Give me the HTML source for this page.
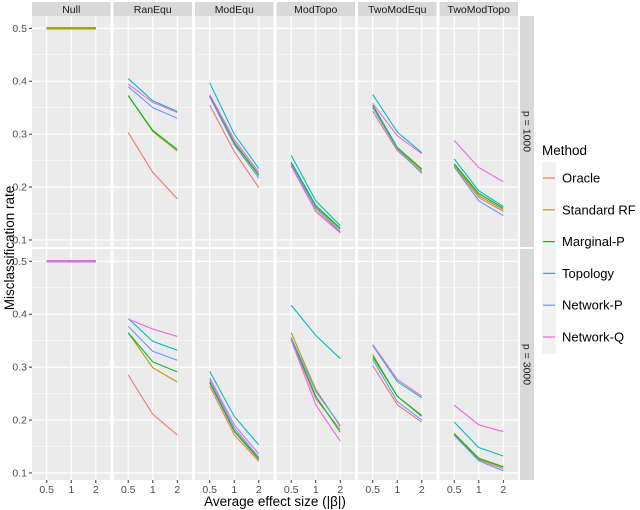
<!DOCTYPE html>
<html><head><meta charset="utf-8"><style>
body{margin:0;background:#fff;}
svg{display:block;font-family:"Liberation Sans",sans-serif;}
</style></head><body>
<svg id="chart" width="640" height="510"></svg>
<script>
const methods=["Oracle","Standard RF","Marginal-P","Topology","Network-P","Network-Q"];
const colors=["#F8766D","#B79F00","#00BA38","#00BFC4","#619CFF","#F564E3"];
const scenarios=["Null","RanEqu","ModEqu","ModTopo","TwoModEqu","TwoModTopo"];
const rowLabels=["p = 1000","p = 3000"];
const xLabels=["0.5","1","2"];
const yTicks=[0.1,0.2,0.3,0.4,0.5];
// values[row][scenario][method] = [x0.5, x1, x2]
const row1000=[
 [[0.5,0.5,0.5],[0.5,0.5,0.5],[0.5,0.5,0.5],[0.5,0.5,0.5],[0.5,0.5,0.5],[0.5,0.5,0.5]],
 [[0.303,0.228,0.178],[0.373,0.305,0.268],[0.373,0.307,0.271],[0.405,0.363,0.343],[0.39,0.35,0.33],[0.395,0.36,0.341]],
 [[0.355,0.267,0.199],[0.372,0.285,0.224],[0.372,0.283,0.222],[0.397,0.30,0.235],[0.37,0.28,0.217],[0.375,0.29,0.228]],
 [[0.24,0.155,0.115],[0.245,0.162,0.12],[0.247,0.165,0.122],[0.26,0.174,0.127],[0.243,0.16,0.116],[0.24,0.154,0.113]],
 [[0.343,0.269,0.228],[0.352,0.273,0.231],[0.355,0.275,0.234],[0.375,0.304,0.265],[0.35,0.272,0.226],[0.358,0.297,0.263]],
 [[0.24,0.18,0.154],[0.242,0.184,0.157],[0.244,0.188,0.16],[0.253,0.193,0.163],[0.238,0.174,0.146],[0.288,0.237,0.21]]
];
const row3000=[
 [[0.5,0.5,0.5],[0.5,0.5,0.5],[0.5,0.5,0.5],[0.5,0.5,0.5],[0.5,0.5,0.5],[0.5,0.5,0.5]],
 [[0.285,0.211,0.172],[0.365,0.299,0.272],[0.365,0.31,0.291],[0.392,0.349,0.332],[0.377,0.33,0.313],[0.391,0.372,0.358]],
 [[0.264,0.172,0.122],[0.27,0.178,0.125],[0.272,0.18,0.127],[0.292,0.207,0.153],[0.276,0.185,0.13],[0.28,0.191,0.136]],
 [[0.353,0.24,0.182],[0.365,0.258,0.188],[0.355,0.245,0.177],[0.417,0.36,0.316],[0.356,0.254,0.19],[0.351,0.229,0.16]],
 [[0.303,0.229,0.196],[0.324,0.245,0.209],[0.32,0.245,0.207],[0.341,0.273,0.242],[0.315,0.235,0.2],[0.343,0.277,0.245]],
 [[0.172,0.125,0.108],[0.175,0.128,0.112],[0.173,0.127,0.111],[0.196,0.148,0.132],[0.171,0.123,0.104],[0.228,0.191,0.178]]
];
const rows=[row1000,row3000];

const NS="http://www.w3.org/2000/svg";
const svg=document.getElementById("chart");
function mk(tag,attrs,parent){const e=document.createElementNS(NS,tag);for(const k in attrs)e.setAttribute(k,attrs[k]);(parent||svg).appendChild(e);return e;}
const panelLeft=32,panelW=78.5,step=81.5;
const rowTop=[16,249],panelH=231;
const yMin=0.0867,yMax=0.5233;
function yScale(r,v){return rowTop[r]+(yMax-v)/(yMax-yMin)*panelH;}
function xScale(c,i){return panelLeft+c*step+(i+0.6)/3.2*panelW;}

scenarios.forEach((s,c)=>{
  const g=mk("g",{});
  
  
  mk("rect",{x:panelLeft+c*step,y:2,width:panelW,height:14,fill:"#D9D9D9"},g);
  const t=mk("text",{x:panelLeft+c*step+panelW/2,y:13,"text-anchor":"middle","font-size":"10.5",fill:"#1a1a1a"},g);
  t.textContent=s;
});
rowLabels.forEach((l,r)=>{
  const g=mk("g",{});
  
  
  mk("rect",{x:520,y:rowTop[r],width:14,height:panelH,fill:"#D9D9D9"},g);
  const cy=rowTop[r]+panelH/2;
  const t=mk("text",{x:0,y:0,"text-anchor":"middle","font-size":"10.5",fill:"#1a1a1a",transform:`translate(523.5,${cy}) rotate(90)`},g);
  t.textContent=l;
});

rows.forEach((rowData,r)=>{
  scenarios.forEach((s,c)=>{
    const g=mk("g",{});
    
    
    const x0=panelLeft+c*step;
    mk("rect",{x:x0,y:rowTop[r],width:panelW,height:panelH,fill:"#EBEBEB"},g);
    for(let v=0.15;v<0.52;v+=0.1){const y=yScale(r,v);mk("line",{x1:x0,x2:x0+panelW,y1:y,y2:y,stroke:"#fff","stroke-width":0.5},g);}
    yTicks.forEach(v=>{const y=yScale(r,v);mk("line",{x1:x0,x2:x0+panelW,y1:y,y2:y,stroke:"#fff","stroke-width":1.1},g);});
    xLabels.forEach((l,i)=>{const x=xScale(c,i);mk("line",{x1:x,x2:x,y1:rowTop[r],y2:rowTop[r]+panelH,stroke:"#fff","stroke-width":1.1},g);});
    const order=(c===0&&r===0)?[5,3,4,0,2,1]:[0,1,2,3,4,5];
    order.forEach(m=>{
      const vals=rowData[c][m];
      const p=mk("polyline",{points:vals.map((v,i)=>xScale(c,i)+","+yScale(r,v)).join(" "),fill:"none",stroke:colors[m],"stroke-width":(c===0?2.2:1.1)},g);
      
      
    });
  });
  yTicks.forEach(v=>{
    const t=mk("text",{x:27,y:yScale(r,v)+3.5,"text-anchor":"end","font-size":"10.5",fill:"#4d4d4d"});
    
    
    t.textContent=v.toFixed(1);
    mk("line",{x1:29,x2:32,y1:yScale(r,v),y2:yScale(r,v),stroke:"#333","stroke-width":1});
  });
});
scenarios.forEach((s,c)=>{
  xLabels.forEach((l,i)=>{
    const x=xScale(c,i);
    mk("line",{x1:x,x2:x,y1:480,y2:483,stroke:"#333","stroke-width":1});
    const t=mk("text",{x:x,y:493,"text-anchor":"middle","font-size":"10.5",fill:"#4d4d4d"});
    
    
    t.textContent=l;
  });
});
const xt=mk("text",{x:275,y:506,"text-anchor":"middle","font-size":"13.5",fill:"#000"});


xt.textContent="Average effect size (|β|)";
const yt=mk("text",{x:0,y:0,"text-anchor":"middle","font-size":"13.5",fill:"#000",transform:"translate(14,248) rotate(-90)"});


yt.textContent="Misclassification rate";
const lg=mk("g",{});


const lt=mk("text",{x:542,y:155,"font-size":"13.5",fill:"#000"},lg);
lt.textContent="Method";
mk("rect",{x:542,y:162,width:14,height:192,fill:"#F2F2F2"},lg);
methods.forEach((m,i)=>{
  const y=178+i*31.8;
  const e=mk("g",{},lg);
  
  
  mk("line",{x1:543,x2:555,y1:y,y2:y,stroke:colors[i],"stroke-width":1.2},e);
  const t=mk("text",{x:562,y:y+4.5,"font-size":"13",fill:"#000"},e);
  t.textContent=m;
});
</script>
</body></html>
